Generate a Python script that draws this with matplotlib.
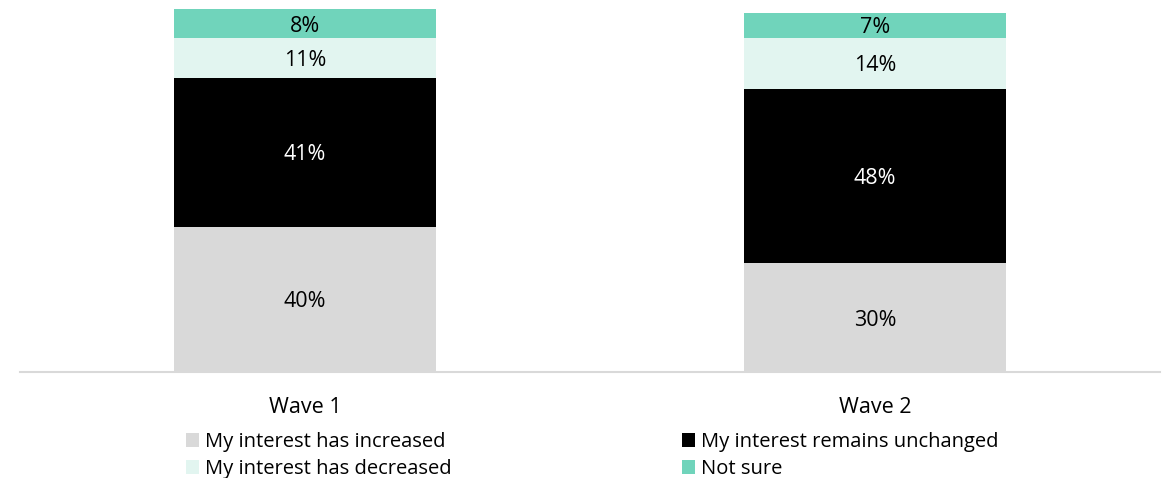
import matplotlib.pyplot as plt
from matplotlib.patches import Patch

plt.rcParams['font.family'] = ['Open Sans', 'DejaVu Sans']

waves = ['Wave 1', 'Wave 2']
increased = [40, 30]
unchanged = [41, 48]
decreased = [11, 14]
not_sure = [8, 7]

series = [
    ('My interest has increased', increased, '#d9d9d9', 'black'),
    ('My interest remains unchanged', unchanged, '#000000', 'white'),
    ('My interest has decreased', decreased, '#e2f5f0', 'black'),
    ('Not sure', not_sure, '#70d4bb', 'black'),
]

fig = plt.figure(figsize=(11.65, 4.78), dpi=100)
ax = fig.add_axes([20 / 1165, 106 / 478, 1140 / 1165, 363 / 478])

x = list(range(len(waves)))
bottom = [0] * len(waves)
for name, vals, color, txt in series:
    bars = ax.bar(x, vals, 0.458, bottom=bottom, color=color, label=name, zorder=2)
    for b, v in zip(bars, vals):
        ax.text(b.get_x() + b.get_width() / 2, b.get_y() + b.get_height() / 2,
                f'{v}%', ha='center', va='center_baseline', color=txt, fontsize=15.5)
    bottom = [a + v for a, v in zip(bottom, vals)]

ax.set_xlim(-0.5, 1.5)
ax.set_ylim(0, 100)
ax.set_xticks(x)
ax.set_xticklabels(waves, fontsize=15.5)
ax.tick_params(axis='x', length=0, pad=18)
ax.set_yticks([])
for s in ['top', 'right', 'left']:
    ax.spines[s].set_visible(False)
ax.spines['bottom'].set_color('#d9d9d9')
ax.spines['bottom'].set_linewidth(1.5)

order = [series[0], series[2], series[1], series[3]]
handles = [Patch(facecolor=c, label=n) for n, _, c, _ in order]
fig.legend(handles=handles, ncol=2, loc='upper left', bbox_to_anchor=(186 / 1165, 1 - 432 / 478),
           frameon=False, fontsize=14.5, handlelength=0.65, handleheight=0.65,
           handletextpad=0.3, columnspacing=11.45, labelspacing=0.36,
           borderpad=0, borderaxespad=0)

fig.savefig('out.png', dpi=100)
